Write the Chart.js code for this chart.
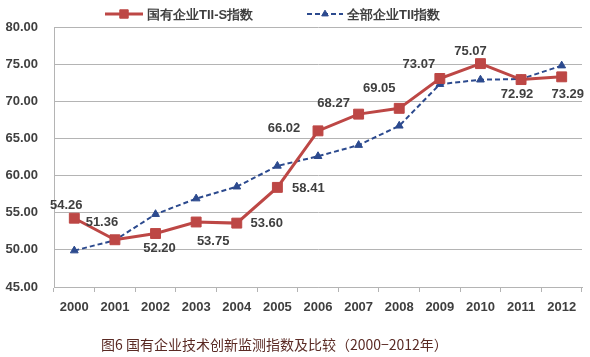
<!DOCTYPE html>
<html>
<head>
<meta charset="utf-8">
<script src="https://cdn.jsdelivr.net/npm/chart.js@4"></script>
<style>
html,body{margin:0;padding:0;background:#fff;}
#wrap{position:relative;width:590px;height:357px;}
</style>
</head>
<body>
<div id="wrap"><canvas id="c" width="590" height="357"></canvas></div>
<script>
// ---- data ----
const years = ['2000','2001','2002','2003','2004','2005','2006','2007','2008','2009','2010','2011','2012'];
const soeTII = [54.26, 51.36, 52.20, 53.75, 53.60, 58.41, 66.02, 68.27, 69.05, 73.07, 75.07, 72.92, 73.29];
const allTII = [49.9, 51.3, 54.8, 56.9, 58.5, 61.3, 62.6, 64.1, 66.7, 72.3, 72.9, 73.0, 74.8];
const seriesNames = ['国有企业TII-S指数', '全部企业TII指数'];
const yTicks = [45, 50, 55, 60, 65, 70, 75, 80];
const caption = '图6 国有企业技术创新监测指数及比较（2000−2012年）';

const RED = '#bd4745';
const BLUE = '#2c4a8e';
const TXT = '#3f3f3f';
const GRID = '#b4b4b4';
const FONT = "'Liberation Sans', Arial, sans-serif";

// label offsets for red series (dx, dy relative to point)
const labelOffsets = [[-8,-13],[-13,-17],[4,15],[17,19],[30,0],[31,1],[-34,-2],[-25,-11],[-20,-20],[-21,-14],[-10,-12],[-4,15],[6,18]];

const labelsPlugin = {
  id: 'pointLabels',
  afterDatasetsDraw(chart) {
    const ctx = chart.ctx;
    const meta = chart.getDatasetMeta(0);
    ctx.save();
    ctx.font = "bold 13px " + FONT;
    ctx.fillStyle = TXT;
    ctx.textAlign = 'center';
    ctx.textBaseline = 'middle';
    meta.data.forEach((pt, i) => {
      const o = labelOffsets[i];
      ctx.fillText(soeTII[i].toFixed(2), pt.x + o[0], pt.y + o[1]);
    });
    ctx.restore();
  }
};

const legendPlugin = {
  id: 'customLegend',
  afterDraw(chart) {
    const ctx = chart.ctx;
    const ds = chart.data.datasets;
    const items = [{x0:105, x1:143, tx:147}, {x0:307, x1:343, tx:347}];
    const y = 14;
    ctx.save();
    items.forEach((it, i) => {
      const d = ds[i];
      ctx.strokeStyle = d.borderColor;
      ctx.lineWidth = d.borderWidth;
      ctx.setLineDash(d.borderDash || []);
      ctx.beginPath();
      ctx.moveTo(it.x0, y); ctx.lineTo(it.x1, y);
      ctx.stroke();
      ctx.setLineDash([]);
      ctx.fillStyle = d.pointBackgroundColor;
      ctx.strokeStyle = d.pointBorderColor;
      ctx.lineWidth = 1;
      Chart.helpers.drawPoint(ctx, {pointStyle: d.pointStyle, radius: d.pointRadius * 0.85, borderWidth: 1}, (it.x0 + it.x1) / 2, y);
      ctx.font = "bold 13px " + FONT;
      ctx.fillStyle = TXT;
      ctx.textAlign = 'left';
      ctx.textBaseline = 'middle';
      ctx.fillText(seriesNames[i], it.tx, y + 1);
    });
    ctx.restore();
  }
};

const captionPlugin = {
  id: 'caption',
  afterDraw(chart) {
    const ctx = chart.ctx;
    ctx.save();
    ctx.font = "14px 'Noto Sans CJK SC', sans-serif";
    ctx.fillStyle = '#5a2a24';
    ctx.textAlign = 'left';
    ctx.textBaseline = 'middle';
    ctx.fillText(caption, 101, 345);
    ctx.restore();
  }
};

new Chart(document.getElementById('c'), {
  type: 'line',
  data: {
    labels: years,
    datasets: [
      {
        label: seriesNames[0],
        data: soeTII,
        borderColor: RED,
        backgroundColor: RED,
        borderWidth: 3,
        pointStyle: 'rect',
        pointRadius: 7,
        pointBorderWidth: 1,
        pointBackgroundColor: RED,
        pointBorderColor: RED,
        tension: 0
      },
      {
        label: seriesNames[1],
        data: allTII,
        borderColor: BLUE,
        backgroundColor: BLUE,
        borderWidth: 2,
        borderDash: [5, 3],
        pointStyle: 'triangle',
        pointRadius: 4.5,
        pointBorderWidth: 1,
        pointBackgroundColor: BLUE,
        pointBorderColor: BLUE,
        tension: 0
      }
    ]
  },
  options: {
    responsive: false,
    animation: false,
    layout: { padding: { top: 27, left: 0, right: 7, bottom: 0 } },
    plugins: { legend: { display: false }, tooltip: { enabled: false }, title: { display: false } },
    scales: {
      x: {
        type: 'category',
        offset: true,
        grid: { offset: true, drawOnChartArea: false, drawTicks: true, tickLength: 5, color: GRID },
        border: { color: GRID, width: 1 },
        ticks: { color: TXT, font: { family: FONT, size: 13, weight: 'bold' }, padding: 8, maxRotation: 0, autoSkip: false },
        afterFit(s) { s.height = 70; }
      },
      y: {
        min: 45, max: 80,
        afterBuildTicks(s) { s.ticks = yTicks.map(v => ({ value: v })); },
        grid: { color: GRID, drawTicks: false },
        border: { color: GRID, width: 1 },
        ticks: { color: TXT, font: { family: FONT, size: 13, weight: 'bold' }, padding: 16, callback: v => Number(v).toFixed(2) },
        afterFit(s) { s.width = 54; }
      }
    }
  },
  plugins: [labelsPlugin, legendPlugin, captionPlugin]
});
</script>
</body>
</html>
